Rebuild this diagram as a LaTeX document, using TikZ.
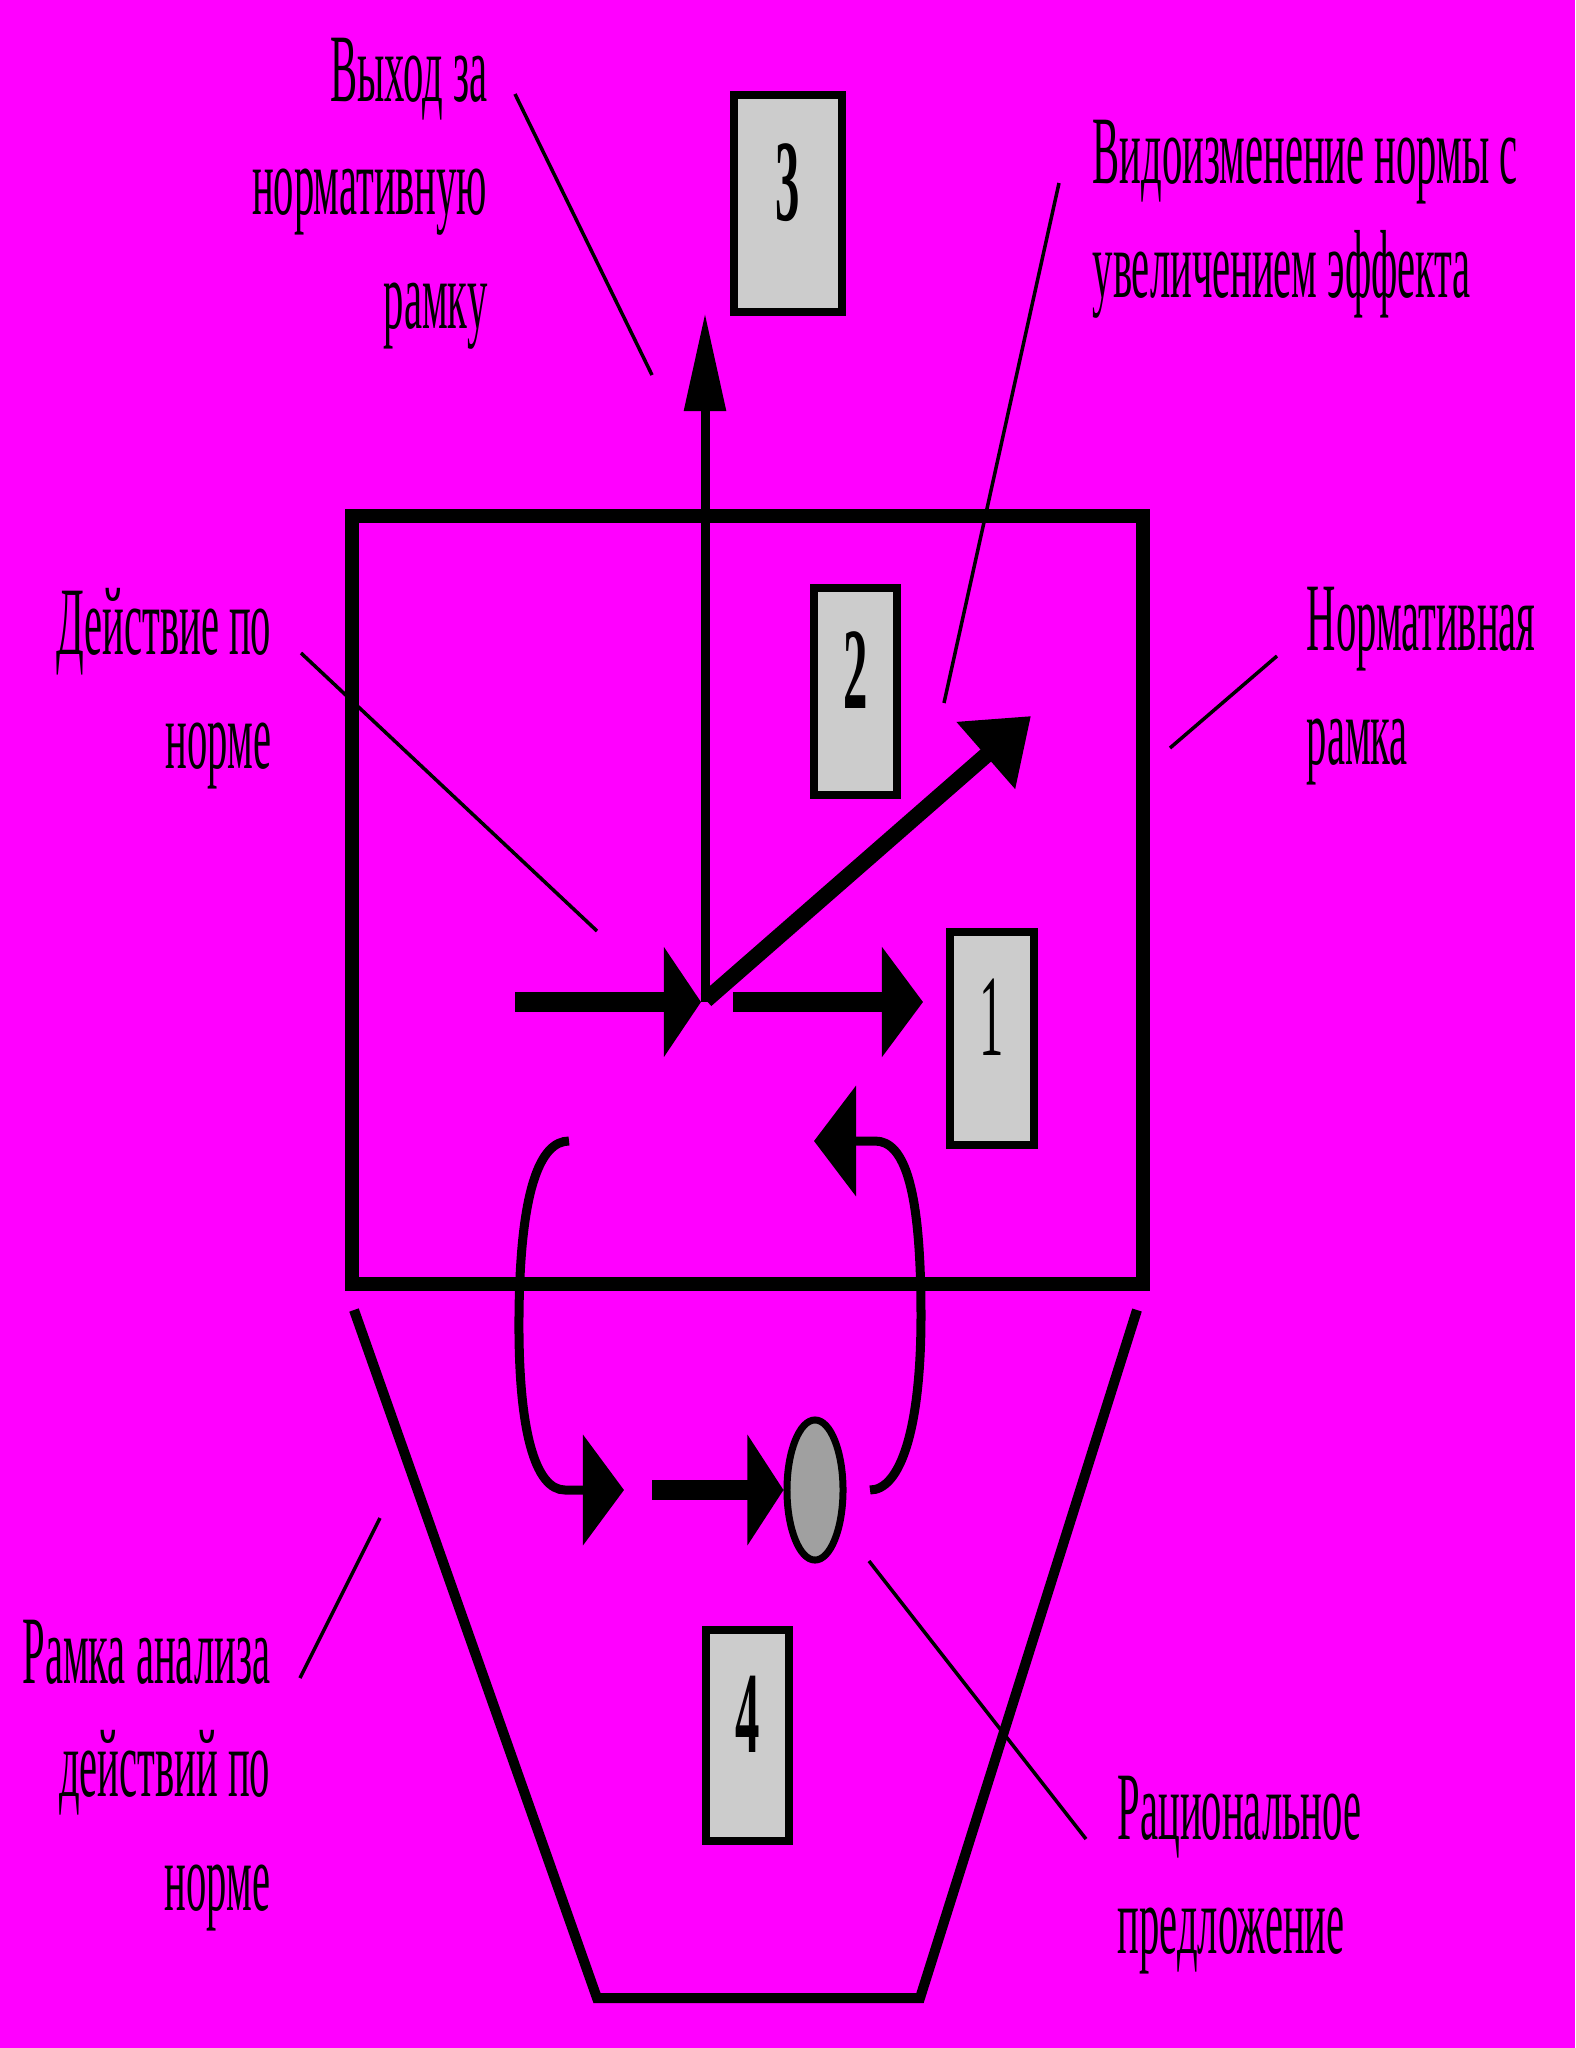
\documentclass[tikz,border=0pt]{standalone}
\usepackage{fontspec}
\setmainfont{Liberation Serif}
\newfontfamily\condfont[FakeStretch=0.42]{Liberation Serif}
\usetikzlibrary{arrows.meta,shapes.geometric}
\definecolor{bgmag}{HTML}{FF00FF}
\definecolor{boxgray}{HTML}{CCCCCC}
\definecolor{ovalgray}{HTML}{A0A0A0}
\tikzset{
  lbl/.style={inner sep=0pt, font=\condfont\fontsize{27.5}{32.2}\selectfont},
  lblr/.style={lbl, align=right},
  lbll/.style={lbl, align=left},
  numbox/.style={draw=black, line width=0.08cm, fill=boxgray, inner sep=0pt,
    font=\condfont\fontsize{33}{36}\selectfont, text depth=0.42cm},
  leader/.style={line width=0.035cm},
  frame/.style={line width=0.14cm},
  trap/.style={line width=0.1cm, line join=miter},
  loop/.style={line width=0.09cm},
}
\begin{document}
\begin{tikzpicture}[x=0.01cm,y=-0.01cm]
\fill[bgmag] (0,0) rectangle (1575,2048);
\useasboundingbox (0,0) rectangle (1575,2048);

% frames
\draw[frame] (352,516) rectangle (1143,1284);
\draw[trap] (354,1310) -- (597,1998) -- (920,1998) -- (1137,1310);

% boxes
\node[numbox, minimum width=1.08cm, minimum height=2.17cm] (b3) at (788,203.5) {\bfseries 3};
\node[numbox, minimum width=0.82cm, minimum height=2.06cm] (b2) at (855.5,691.5) {\bfseries 2};
\node[numbox, minimum width=0.83cm, minimum height=2.12cm] (b1) at (992,1038.5) {1};
\node[numbox, minimum width=0.82cm, minimum height=2.10cm] (b4) at (747.5,1735.5) {\bfseries 4};

% oval
\node[draw=black, line width=0.07cm, fill=ovalgray, ellipse, minimum width=0.56cm, minimum height=1.40cm, inner sep=0pt] (ov) at (815,1490) {};

% arrow points
\coordinate (hin) at (515,1002);
\coordinate (hc) at (701,1002);
\coordinate (vc) at (705,1002);
\coordinate (vtop) at (705,313);
\coordinate (dst) at (706,1000);
\coordinate (dtip) at (1031,716);
\coordinate (rin) at (733,1002);
\coordinate (rtip) at (923,1002);
\coordinate (mst) at (652,1490);
\coordinate (lst) at (569,1141);
\coordinate (lend) at (624,1490);
\coordinate (rst) at (870,1490);
\coordinate (rend) at (814,1141);

\draw[line width=0.09cm, -{Triangle[length=0.98cm, width=0.40cm]}] (vc) -- (vtop);
\draw[line width=0.2cm, -{Triangle[length=0.37cm, width=1.08cm]}] (hin) -- (hc);
\draw[line width=0.2cm, -{Triangle[length=0.41cm, width=1.08cm]}] (rin) -- (rtip);
\draw[line width=0.16cm, -{Triangle[length=0.6cm, width=0.85cm]}] (dst) -- (dtip);
\draw[line width=0.2cm, -{Triangle[length=0.36cm, width=1.09cm]}] (mst) -- (ov.west);

\draw[loop, -{Triangle[length=0.41cm, width=1.09cm]}] (lst) .. controls (540,1141) and (520,1190) .. (519,1316) .. controls (518,1430) and (535,1490) .. (565,1490) -- (lend);
\draw[loop, -{Triangle[length=0.42cm, width=1.09cm]}] (rst) .. controls (900,1490) and (921,1430) .. (921,1316) .. controls (921,1190) and (905,1141) .. (875,1141) -- (rend);

% labels (anchored at the baseline of the last line)
\node[lblr, anchor=base east] (t1) at (488,328) {Выход за\\нормативную\\рамку};
\node[lbll, anchor=base west] (t2) at (1092,297) {Видоизменение нормы с\\увеличением эффекта};
\node[lblr, anchor=base east] (t3) at (272,768) {Действие по\\норме};
\node[lbll, anchor=base west] (t4) at (1306,764) {Нормативная\\рамка};
\node[lblr, anchor=base east] (t5) at (271,1910) {Рамка анализа\\действий по\\норме};
\node[lbll, anchor=base west] (t6) at (1117,1953) {Рациональное\\предложение};

% leader lines
\coordinate (p1a) at (515,94);  \coordinate (p1b) at (652,375);
\coordinate (p2a) at (1059,183); \coordinate (p2b) at (944,703);
\coordinate (p3a) at (301,653); \coordinate (p3b) at (597,931);
\coordinate (p4a) at (1277,656); \coordinate (p4b) at (1170,748);
\coordinate (p5a) at (380,1518); \coordinate (p5b) at (300,1678);
\coordinate (p6a) at (869,1561); \coordinate (p6b) at (1086,1839);
\draw[leader] (p1a) -- (p1b);
\draw[leader] (p2a) -- (p2b);
\draw[leader] (p3a) -- (p3b);
\draw[leader] (p4a) -- (p4b);
\draw[leader] (p5a) -- (p5b);
\draw[leader] (p6a) -- (p6b);
\end{tikzpicture}
\end{document}
